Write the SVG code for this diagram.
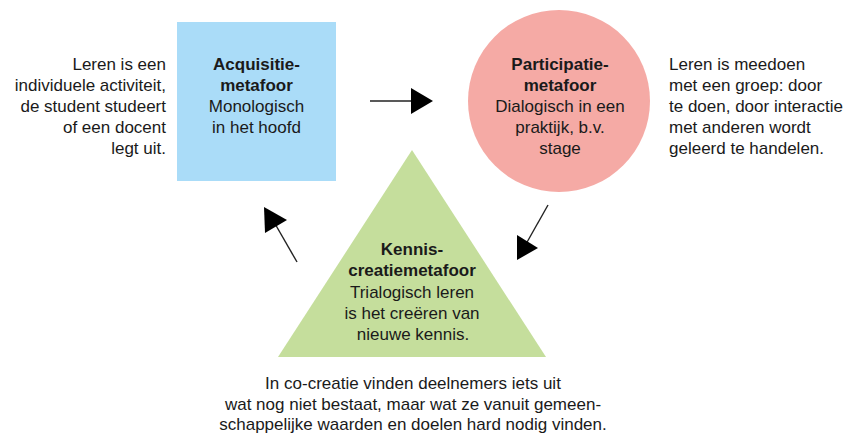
<svg xmlns="http://www.w3.org/2000/svg" width="845" height="433" viewBox="0 0 845 433">
  <style>
    text { font-family: "Liberation Sans", Arial, sans-serif; font-size: 17px; fill: #1a1a1a; }
    .b { font-weight: bold; }
    .c { text-anchor: middle; }
    .r { text-anchor: end; }
    .conn line { stroke: #222; stroke-width: 1.4; }
    .conn polygon { fill: #000; }
  </style>
  <rect width="845" height="433" fill="#fff"/>

  <!-- side note, left -->
  <g id="note-acquisitie">
    <text class="r" x="166" y="70">Leren is een</text>
    <text class="r" x="166" y="91">individuele activiteit,</text>
    <text class="r" x="166" y="112">de student studeert</text>
    <text class="r" x="166" y="133">of een docent</text>
    <text class="r" x="166" y="154">legt uit.</text>
  </g>

  <!-- square: acquisition metaphor -->
  <g id="acquisitie">
    <rect x="177" y="22" width="159" height="159" fill="#aadcf8"/>
    <text class="c b" x="256.5" y="70">Acquisitie-</text>
    <text class="c b" x="256.5" y="91">metafoor</text>
    <text class="c" x="256.5" y="112">Monologisch</text>
    <text class="c" x="256.5" y="133">in het hoofd</text>
  </g>

  <!-- circle: participation metaphor -->
  <g id="participatie">
    <circle cx="559" cy="101" r="91" fill="#f5aaa5"/>
    <text class="c b" x="560" y="70">Participatie-</text>
    <text class="c b" x="560" y="91">metafoor</text>
    <text class="c" x="560" y="112">Dialogisch in een</text>
    <text class="c" x="560" y="133">praktijk, b.v.</text>
    <text class="c" x="560" y="154">stage</text>
  </g>

  <!-- side note, right -->
  <g id="note-participatie">
    <text x="669" y="70">Leren is meedoen</text>
    <text x="669" y="91">met een groep: door</text>
    <text x="669" y="112">te doen, door interactie</text>
    <text x="669" y="133">met anderen wordt</text>
    <text x="669" y="154">geleerd te handelen.</text>
  </g>

  <!-- triangle: knowledge-creation metaphor -->
  <g id="kenniscreatie">
    <polygon points="412,150 278,357 546,357" fill="#c5de9c"/>
    <text class="c b" x="412" y="255">Kennis-</text>
    <text class="c b" x="412" y="276">creatiemetafoor</text>
    <text class="c" x="412" y="298">Trialogisch leren</text>
    <text class="c" x="412" y="319">is het creëren van</text>
    <text class="c" x="413" y="340">nieuwe kennis.</text>
  </g>

  <!-- note below -->
  <g id="note-cocreatie">
    <text class="c" x="413" y="389">In co-creatie vinden deelnemers iets uit</text>
    <text class="c" x="413" y="410">wat nog niet bestaat, maar wat ze vanuit gemeen-</text>
    <text class="c" x="413" y="430">schappelijke waarden en doelen hard nodig vinden.</text>
  </g>

  <!-- connectors; heads all drawn pointing right -->
  <g id="connectors" class="conn">
    <line x1="370" y1="101" x2="413" y2="101"/>
    <polygon points="411,88 433,101 411,114"/>

    <line x1="548" y1="205" x2="526" y2="244"/>
    <polygon points="517,235 538,248 517,260"/>

    <line x1="297" y1="262" x2="274" y2="222"/>
    <polygon points="264,207 287,220 265,233"/>
  </g>
</svg>
